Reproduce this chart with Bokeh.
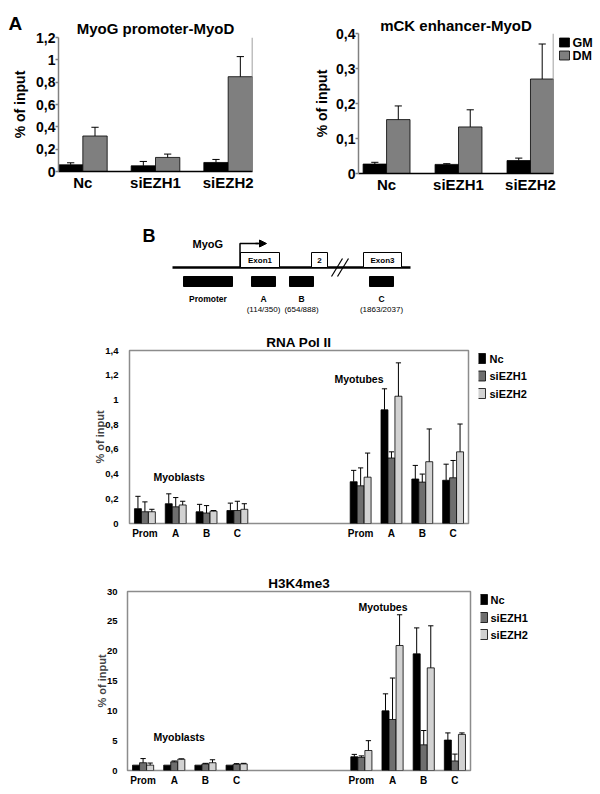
import math
from bokeh.plotting import figure
from bokeh.models import (Range1d, FixedTicker, Label, Span, Arrow, NormalHead, Title)
from bokeh.layouts import column, row
from bokeh.embed import file_html
from bokeh.resources import INLINE
from bokeh.core.properties import value

FONT = "Liberation Sans"

# ---------------- data: panel A ----------------
a_categories = ["Nc", "siEZH1", "siEZH2"]
a_series = ["GM", "DM"]
myog_gm = [0.060, 0.051, 0.081]
myog_gm_sd = [0.018, 0.039, 0.027]
myog_dm = [0.318, 0.126, 0.849]
myog_dm_sd = [0.078, 0.030, 0.180]
mck_gm = [0.027, 0.026, 0.037]
mck_gm_sd = [0.005, 0.002, 0.007]
mck_dm = [0.154, 0.133, 0.270]
mck_dm_sd = [0.039, 0.049, 0.100]
myog_yticks = [0, 0.2, 0.4, 0.6, 0.8, 1, 1.2]
myog_ytick_labels = ["0", "0,2", "0,4", "0,6", "0,8", "1", "1,2"]
mck_yticks = [0, 0.1, 0.2, 0.3, 0.4]
mck_ytick_labels = ["0", "0,1", "0,2", "0,3", "0,4"]

# ---------------- data: panel B ----------------
regions = ["Prom", "A", "B", "C"]
stages = ["Myoblasts", "Myotubes"]
b_series = ["Nc", "siEZH1", "siEZH2"]
# order: Myoblasts Prom, A, B, C, then Myotubes Prom, A, B, C
pol2_nc = [0.12, 0.16, 0.095, 0.105, 0.338, 0.92, 0.36, 0.35]
pol2_nc_sd = [0.10, 0.08, 0.06, 0.06, 0.092, 0.17, 0.11, 0.13]
pol2_siezh1 = [0.095, 0.135, 0.085, 0.105, 0.305, 0.53, 0.335, 0.37]
pol2_siezh1_sd = [0.08, 0.075, 0.06, 0.075, 0.145, 0.05, 0.065, 0.14]
pol2_siezh2 = [0.095, 0.15, 0.10, 0.115, 0.375, 1.03, 0.50, 0.58]
pol2_siezh2_sd = [0.02, 0.03, 0.005, 0.045, 0.195, 0.27, 0.265, 0.225]
pol2_yticks = [0, 0.2, 0.4, 0.6, 0.8, 1, 1.2, 1.4]
pol2_ytick_labels = ["0", "0,2", "0,4", "0,6", "0,8", "1", "1,2", "1,4"]

h3k_nc = [0.9, 0.9, 0.9, 0.9, 2.3, 10.0, 19.55, 5.1]
h3k_nc_sd = [0.0, 0.0, 0.0, 0.0, 0.4, 2.85, 4.35, 1.2]
h3k_siezh1 = [1.3, 1.45, 1.1, 1.05, 2.2, 8.55, 4.3, 1.6]
h3k_siezh1_sd = [0.7, 0.15, 0.1, 0.1, 0.25, 6.95, 2.4, 1.15]
h3k_siezh2 = [0.9, 1.9, 1.3, 1.1, 3.35, 20.95, 17.2, 6.05]
h3k_siezh2_sd = [0.35, 0.05, 0.5, 0.1, 1.65, 5.15, 7.05, 0.25]
h3k_yticks = [0, 5, 10, 15, 20, 25, 30]
h3k_ytick_labels = ["0", "5", "10", "15", "20", "25", "30"]

# ---------------- schematic of the MyoG gene ----------------
gene_name = "MyoG"
exon_labels = ["Exon1", "2", "Exon3"]
amplicon_labels = ["Promoter", "A", "B", "C"]
amplicon_coords = ["(114/350)", "(654/888)", "(1863/2037)"]

A_COLORS = ["black", "#7f7f7f"]
B_COLORS = ["black", "#6e6e6e", "#d2d2d2"]
AXIS_GRAY = "#808080"


def make_fig(width, height, xr, yr, ml, mr, mt, mb, **kw):
    p = figure(width=width, height=height, x_range=xr, y_range=yr, title=None,
               output_backend="svg", toolbar_location=None, tools="",
               min_border_left=ml, min_border_right=mr,
               min_border_top=mt, min_border_bottom=mb, **kw)
    p.background_fill_color = "white"
    p.border_fill_color = "white"
    p.xgrid.visible = False
    p.ygrid.visible = False
    return p


def blank_fig(width, height, xr, yr, mt=0, mb=0):
    p = make_fig(width, height, xr, yr, 0, 0, mt, mb,
                 x_axis_location=None, y_axis_location=None)
    p.outline_line_color = None
    return p


def style_axis(ax, size, standoff, line_color=None, line_width=1.5,
               tick_out=0, tick_color=None):
    ax.axis_line_color = line_color
    ax.axis_line_width = line_width
    ax.major_tick_out = tick_out
    ax.major_tick_in = 0
    ax.major_tick_line_color = tick_color
    ax.major_tick_line_width = line_width
    ax.minor_tick_line_color = None
    ax.minor_tick_out = 0
    ax.minor_tick_in = 0
    ax.major_label_text_font = FONT
    ax.major_label_text_font_style = "bold"
    ax.major_label_text_font_size = size
    ax.major_label_text_color = "black"
    ax.major_label_standoff = standoff


def add_title(p, text, size, offset, standoff):
    p.add_layout(Title(text=text, align="center", offset=offset, standoff=standoff,
                       text_font=FONT, text_font_size=size, text_font_style="bold",
                       text_color="black"), "above")


def add_label(p, text, x, y, size, align="left", style="bold"):
    p.add_layout(Label(x=x, y=y, x_units="screen", y_units="screen", text=text,
                       text_font=FONT, text_font_size=size, text_font_style=style,
                       text_align=align, text_baseline="alphabetic",
                       text_color="black"))


def add_errors(p, xs, tops, sds, half_cap, width=1):
    ex, ey0, ey1 = [], [], []
    for x, t, s in zip(xs, tops, sds):
        if s > 0:
            ex.append(x)
            ey0.append(t)
            ey1.append(t + s)
    p.segment(x0=ex, y0=ey0, x1=ex, y1=ey1, line_color="black", line_width=width)
    p.segment(x0=[x - half_cap for x in ex], y0=ey1,
              x1=[x + half_cap for x in ex], y1=ey1,
              line_color="black", line_width=width)


def legend_fig(width, height, x0, y_bottom, y_top, mt, mb, labels, colors,
               sq_left, sq_centers, sq_w, sq_h, text_x, size):
    # a small figure whose data space is page pixels (y downward)
    lf = blank_fig(width, height, Range1d(x0, x0 + width), Range1d(y_bottom, y_top), mt, mb)
    lf.quad(left=[sq_left] * len(labels), right=[sq_left + sq_w] * len(labels),
            top=[c - sq_h / 2 for c in sq_centers], bottom=[c + sq_h / 2 for c in sq_centers],
            fill_color=colors, line_color="black", line_width=0.8)
    lf.text(x=[text_x] * len(labels), y=sq_centers, text=labels,
            text_font=value(FONT), text_font_size=value(size), text_font_style="bold",
            text_baseline="middle", text_align="left", text_color="black")
    return lf


# ---------------- Panel A charts ----------------
A_H = 196


def panel_a(width, ml, mr, top, bottom, x0, x1, ymax, bw,
            gm, gm_sd, dm, dm_sd, yticks, ylabels, ylabel):
    p = make_fig(width, A_H, Range1d(x0, x1), Range1d(0, ymax), ml, mr,
                 top, A_H - bottom)
    p.outline_line_color = None
    idx = list(range(len(a_categories)))
    xs_gm = [i - bw / 2 for i in idx]
    xs_dm = [i + bw / 2 for i in idx]
    p.vbar(x=xs_gm, top=gm, width=bw, fill_color=A_COLORS[0],
           line_color="black", line_width=0.8)
    p.vbar(x=xs_dm, top=dm, width=bw, fill_color=A_COLORS[1],
           line_color="black", line_width=0.8)
    add_errors(p, xs_gm, gm, gm_sd, 0.05)
    add_errors(p, xs_dm, dm, dm_sd, 0.05)
    ya = p.yaxis[0]
    style_axis(ya, "14px", 0, line_color=AXIS_GRAY, tick_out=3, tick_color=AXIS_GRAY)
    ya.ticker = FixedTicker(ticks=yticks)
    ya.major_label_overrides = dict(zip(yticks, ylabels))
    if ylabel:
        ya.axis_label = "% of input"
        ya.axis_label_text_font = FONT
        ya.axis_label_text_font_style = "bold"
        ya.axis_label_text_font_size = "14px"
        ya.axis_label_text_color = "black"
        ya.axis_label_standoff = 3
    xa = p.xaxis[0]
    style_axis(xa, "15px", 2, line_color="black", tick_out=0, tick_color=None)
    xa.ticker = FixedTicker(ticks=idx)
    xa.major_label_overrides = dict(zip(idx, a_categories))
    p.add_layout(Span(location=x1, dimension="height", line_color=AXIS_GRAY,
                      line_width=1.5))
    return p


# left strip: panel letter and y-axis title of the first chart (page x 0-30)
strip = blank_fig(30, A_H, Range1d(0, 30), Range1d(A_H, 0))
strip.text(x=[8], y=[23], text=["A"], text_font=value(FONT),
           text_font_size=value("19px"), text_font_style="bold",
           text_baseline="alphabetic")
strip.text(x=[19], y=[104], text=["% of input"], text_font=value(FONT),
           text_font_size=value("14px"), text_font_style="bold",
           text_baseline="middle", text_align="center", angle=math.pi / 2)

# MyoG promoter: figure page x 30-300, frame x 58-252, y 37-171
pa1 = panel_a(270, 28, 48, 37, 171, -0.335, 2.335, 1.2, 0.335,
              myog_gm, myog_gm_sd, myog_dm, myog_dm_sd,
              myog_yticks, myog_ytick_labels, False)
add_title(pa1, "MyoG promoter-MyoD", "15px", -2, 2)

# mCK enhancer: figure page x 300-556, frame x 358-553, y 33-173
pa2 = panel_a(256, 58, 3, 33, 173, -0.39, 2.32, 0.4, 0.326,
              mck_gm, mck_gm_sd, mck_dm, mck_dm_sd,
              mck_yticks, mck_ytick_labels, True)
add_title(pa2, "mCK enhancer-MyoD", "15px", -3.5, 0)

# GM / DM key: figure page x 556-600
la = legend_fig(44, A_H, 556, 173, 33, 33, A_H - 173,
                a_series, A_COLORS, 559, [42, 55], 10, 9, 572, "12.5px")

# ---------------- Panel B schematic (page coordinates y 196-314) ----------------
d = blank_fig(600, 118, Range1d(0, 600), Range1d(314, 196))
exon_left = [240, 311, 363]
exon_right = [279, 327, 401]
amp_left = [183, 251, 289, 369]
amp_right = [232, 275, 313, 393]
d.segment(x0=[172], y0=[267], x1=[410], y1=[267], line_color="black", line_width=2.5)
d.quad(left=exon_left, right=exon_right, top=[252] * 3, bottom=[267] * 3,
       fill_color="white", line_color="black", line_width=1)
d.text(x=[(a + b) / 2 for a, b in zip(exon_left, exon_right)], y=[260] * 3,
       text=exon_labels, text_font=value(FONT), text_font_size=value("8px"),
       text_font_style="bold", text_align="center", text_baseline="middle")
d.segment(x0=[331, 337], y0=[276, 276], x1=[342, 348], y1=[258, 258],
          line_color="black", line_width=1.2)
d.line(x=[239.5, 239.5, 258], y=[267, 243, 243], line_color="black", line_width=1.5)
d.add_layout(Arrow(end=NormalHead(size=7, fill_color="black", line_color="black"),
                   x_start=255, y_start=243, x_end=266, y_end=243,
                   line_color="black", line_width=1.5))
d.quad(left=amp_left, right=amp_right, top=[276] * 4, bottom=[286] * 4,
       fill_color="black", line_color="black")
d.text(x=[(a + b) / 2 for a, b in zip(amp_left, amp_right)], y=[298] * 4,
       text=amplicon_labels, text_font=value(FONT), text_font_size=value("8.5px"),
       text_font_style="bold", text_align="center", text_baseline="alphabetic")
d.text(x=[(a + b) / 2 for a, b in zip(amp_left[1:], amp_right[1:])], y=[309] * 3,
       text=amplicon_coords, text_font=value(FONT), text_font_size=value("8px"),
       text_align="center", text_baseline="alphabetic")
d.text(x=[192], y=[243], text=[gene_name], text_font=value(FONT),
       text_font_size=value("11px"), text_font_style="bold",
       text_baseline="alphabetic")
d.text(x=[142], y=[235], text=["B"], text_font=value(FONT),
       text_font_size=value("18px"), text_font_style="bold",
       text_baseline="alphabetic")


# ---------------- Panel B charts ----------------
def panel_b(width, height, ml, mr, mt, mb, ymax, series, sds, yticks, ylabels,
            ytick_standoff):
    p = make_fig(width, height, Range1d(-0.5, 10.5), Range1d(0, ymax), ml, mr, mt, mb)
    p.outline_line_color = "#8c8c8c"
    p.outline_line_width = 1.5
    gap = 3
    n = len(regions)
    pos = [i for i in range(n)] + [i + n + gap for i in range(n)]
    bw = 0.226
    rends = []
    for k, (vals, sd) in enumerate(zip(series, sds)):
        xs = [x + (k - 1) * bw for x in pos]
        p.vbar(x=xs, top=vals, width=bw, fill_color=B_COLORS[k],
               line_color="black", line_width=0.8)
        rends.append((xs, vals, sd))
    for xs, vals, sd in rends:
        add_errors(p, xs, vals, sd, 0.085)
    ya = p.yaxis[0]
    style_axis(ya, "9.5px", ytick_standoff)
    ya.ticker = FixedTicker(ticks=yticks)
    ya.major_label_overrides = dict(zip(yticks, ylabels))
    ya.axis_label = "% of input"
    ya.axis_label_text_font = FONT
    ya.axis_label_text_font_style = "bold"
    ya.axis_label_text_font_size = "11px"
    ya.axis_label_text_color = "#444444"
    ya.axis_label_standoff = -4
    xa = p.xaxis[0]
    style_axis(xa, "10px", 4)
    xa.ticker = FixedTicker(ticks=pos)
    xa.major_label_overrides = dict(zip(pos, regions * 2))
    return p


# RNA Pol II: page y 314-548, frame x 129-468, y 350-523
pol2 = panel_b(478, 234, 129, 10, 36, 25, 1.4,
               [pol2_nc, pol2_siezh1, pol2_siezh2],
               [pol2_nc_sd, pol2_siezh1_sd, pol2_siezh2_sd],
               pol2_yticks, pol2_ytick_labels, 11)
add_title(pol2, "RNA Pol II", "13.5px", 6.5, 2)
add_label(pol2, stages[0], 24, 47, "10.5px")
add_label(pol2, stages[1], 205, 145, "10.5px")
lp = legend_fig(122, 234, 478, 523, 350, 36, 25, b_series, B_COLORS,
                475, [358, 375.5, 393], 10, 10, 489, "11px")

# H3K4me3: page y 548-792, frame x 127-470, y 591-770
h3k = panel_b(480, 244, 127, 10, 43, 22, 30,
              [h3k_nc, h3k_siezh1, h3k_siezh2],
              [h3k_nc_sd, h3k_siezh1_sd, h3k_siezh2_sd],
              h3k_yticks, h3k_ytick_labels, 10)
add_title(h3k, "H3K4me3", "13.5px", 1.5, 2)
add_label(h3k, stages[0], 26, 34, "10.5px")
add_label(h3k, stages[1], 231, 164, "10.5px")
lh = legend_fig(120, 244, 480, 770, 591, 43, 22, b_series, B_COLORS,
                477, [599, 617, 634], 10, 10, 490, "11px")

layout = column(row(column(strip), column(pa1), column(pa2), column(la)),
                row(d),
                row(column(pol2), column(lp)),
                row(column(h3k), column(lh)))
open("out.html", "w").write(file_html(layout, INLINE))
